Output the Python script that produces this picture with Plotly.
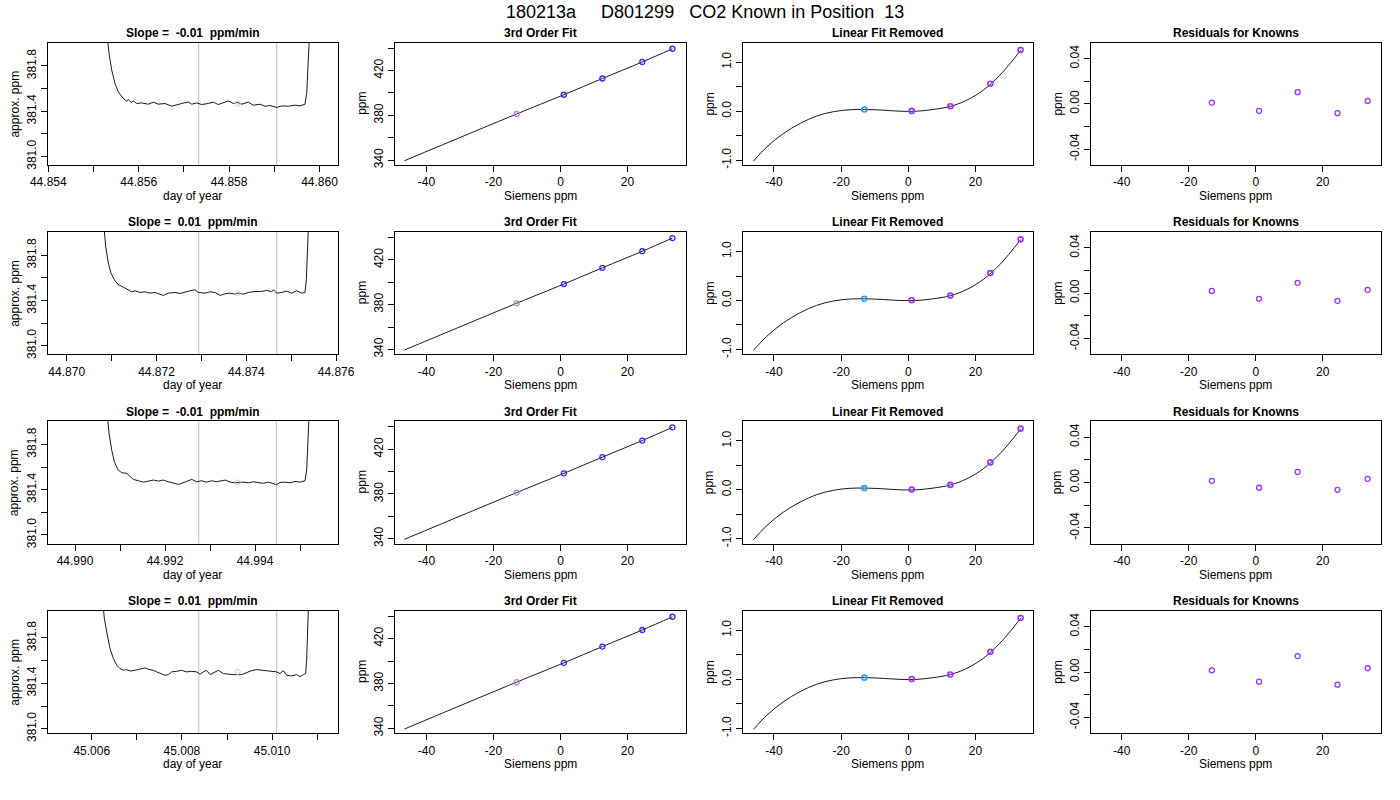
import plotly.graph_objects as go

W, H = 1400, 800
FONT = "Liberation Sans, Arial, Helvetica, sans-serif"
NB = "\u00a0"

# ============================================================
# DATA
# ============================================================
MAIN_TITLE = "180213a" + NB * 5 + "D801299" + NB * 3 + "CO2 Known in Position" + NB * 2 + "13"

SLOPE_TITLES = [
    "Slope =" + NB * 2 + "-0.01" + NB * 2 + "ppm/min",
    "Slope =" + NB * 2 + "0.01" + NB * 2 + "ppm/min",
    "Slope =" + NB * 2 + "-0.01" + NB * 2 + "ppm/min",
    "Slope =" + NB * 2 + "0.01" + NB * 2 + "ppm/min",
]

# approx. ppm vs day of year, one run per row
DAY_ROW1 = [44.855292, 44.855343, 44.855403, 44.855476, 44.855549, 44.855659, 44.855735, 44.855770,
            44.855830, 44.855881, 44.855956, 44.856066, 44.856212, 44.856323, 44.856434, 44.856582,
            44.856730, 44.856841, 44.856951, 44.857097, 44.857173, 44.857283, 44.857394, 44.857540,
            44.857651, 44.857761, 44.857872, 44.857982, 44.858093, 44.858190, 44.858279, 44.858425,
            44.858535, 44.858684, 44.858794, 44.858905, 44.859053, 44.859164, 44.859310, 44.859458,
            44.859569, 44.859679, 44.859717, 44.859752, 44.859783]
PPM_ROW1 = [382.117, 381.911, 381.763, 381.645, 381.571, 381.512, 381.488, 381.504,
            381.477, 381.491, 381.468, 381.473, 381.462, 381.480, 381.462, 381.468,
            381.444, 381.453, 381.468, 381.482, 381.462, 381.473, 381.459, 381.468,
            381.480, 381.459, 381.473, 381.491, 381.468, 381.477, 381.462, 381.480,
            381.453, 381.462, 381.444, 381.450, 381.433, 381.447, 381.444, 381.453,
            381.447, 381.462, 381.557, 381.851, 382.117]

DAY_ROW2 = [44.870816, 44.870868, 44.870927, 44.870987, 44.871061, 44.871150, 44.871261, 44.871358,
            44.871447, 44.871521, 44.871633, 44.871744, 44.871855, 44.871967, 44.872078, 44.872152,
            44.872264, 44.872412, 44.872523, 44.872635, 44.872746, 44.872858, 44.872932, 44.873080,
            44.873192, 44.873303, 44.873414, 44.873526, 44.873637, 44.873748, 44.873823, 44.873934,
            44.874045, 44.874194, 44.874342, 44.874454, 44.874565, 44.874602, 44.874676, 44.874788,
            44.874899, 44.875010, 44.875122, 44.875233, 44.875307, 44.875337, 44.875367, 44.875389]
PPM_ROW2 = [382.114, 381.878, 381.731, 381.642, 381.583, 381.539, 381.518, 381.495,
            381.477, 381.486, 381.471, 381.477, 381.465, 381.471, 381.459, 381.445,
            381.465, 381.471, 381.462, 381.477, 381.486, 381.495, 381.471, 381.465,
            381.477, 381.471, 381.445, 381.459, 381.465, 381.456, 381.465, 381.456,
            381.471, 381.480, 381.480, 381.489, 381.477, 381.495, 381.465, 381.471,
            381.483, 381.465, 381.486, 381.465, 381.471, 381.583, 381.849, 382.114]

DAY_ROW3 = [44.990704, 44.990756, 44.990815, 44.990874, 44.990948, 44.991037, 44.991148, 44.991222,
            44.991296, 44.991407, 44.991519, 44.991630, 44.991741, 44.991852, 44.991963, 44.992074,
            44.992185, 44.992296, 44.992370, 44.992481, 44.992593, 44.992704, 44.992815, 44.992926,
            44.993037, 44.993148, 44.993259, 44.993333, 44.993444, 44.993556, 44.993741, 44.993852,
            44.993963, 44.994074, 44.994185, 44.994296, 44.994407, 44.994481, 44.994556, 44.994667,
            44.994778, 44.994889, 44.995000, 44.995111, 44.995148, 44.995185, 44.995207]
PPM_ROW3 = [382.105, 381.898, 381.750, 381.647, 381.579, 381.550, 381.544, 381.515,
            381.491, 381.479, 381.467, 381.476, 381.485, 381.476, 381.485, 381.470,
            381.461, 381.447, 381.456, 381.476, 381.491, 381.470, 381.479, 381.467,
            381.479, 381.470, 381.479, 381.485, 381.467, 381.461, 381.467, 381.461,
            381.470, 381.461, 381.456, 381.467, 381.450, 381.444, 381.464, 381.467,
            381.461, 381.473, 381.467, 381.479, 381.574, 381.839, 382.105]

DAY_ROW4 = [45.006236, 45.006280, 45.006332, 45.006406, 45.006480, 45.006554, 45.006627, 45.006701,
            45.006775, 45.006849, 45.006960, 45.007071, 45.007182, 45.007256, 45.007367, 45.007441,
            45.007551, 45.007625, 45.007699, 45.007773, 45.007884, 45.007995, 45.008106, 45.008217,
            45.008327, 45.008401, 45.008475, 45.008549, 45.008623, 45.008697, 45.008808, 45.008919,
            45.009030, 45.009140, 45.009325, 45.009436, 45.009547, 45.009658, 45.009769, 45.009880,
            45.009990, 45.010101, 45.010175, 45.010249, 45.010323, 45.010434, 45.010545, 45.010619,
            45.010692, 45.010744, 45.010767, 45.010789, 45.010811]
PPM_ROW4 = [382.150, 381.973, 381.854, 381.707, 381.618, 381.560, 381.530, 381.515,
            381.521, 381.509, 381.515, 381.524, 381.536, 381.524, 381.515, 381.501,
            381.486, 381.471, 381.477, 381.501, 381.506, 381.515, 381.501, 381.506,
            381.501, 381.480, 381.501, 381.515, 381.477, 381.495, 381.515, 381.486,
            381.480, 381.477, 381.477, 381.495, 381.512, 381.521, 381.515, 381.515,
            381.506, 381.501, 381.486, 381.512, 381.471, 381.465, 381.477, 381.459,
            381.477, 381.486, 381.618, 381.884, 382.150]

# averaging window (gray lines) and mean point of each run
WINDOW_ROW1 = [44.857327, 44.859053]
WINDOW_ROW2 = [44.872940, 44.874677]
WINDOW_ROW3 = [44.992749, 44.994473]
WINDOW_ROW4 = [45.008373, 45.010102]
MEAN_DAY = [44.858190, 44.873808, 44.993615, 45.009237]
MEAN_PPM = [381.468, 381.465, 381.464, 381.501]

DAY_TICKS_ROW1 = [44.854, 44.855, 44.856, 44.857, 44.858, 44.859, 44.860]
DAY_LABELS_ROW1 = ["44.854", "", "44.856", "", "44.858", "", "44.860"]
DAY_TICKS_ROW2 = [44.870, 44.871, 44.872, 44.873, 44.874, 44.875, 44.876]
DAY_LABELS_ROW2 = ["44.870", "", "44.872", "", "44.874", "", "44.876"]
DAY_TICKS_ROW3 = [44.990, 44.991, 44.992, 44.993, 44.994, 44.995]
DAY_LABELS_ROW3 = ["44.990", "", "44.992", "", "44.994", ""]
DAY_TICKS_ROW4 = [45.006, 45.007, 45.008, 45.009, 45.010, 45.011]
DAY_LABELS_ROW4 = ["45.006", "", "45.008", "", "45.010", ""]

PPM_TICKS = [381.0, 381.2, 381.4, 381.6, 381.8]
PPM_LABELS = ["381.0", "", "381.4", "", "381.8"]

# knowns
SIEMENS = [-13.1, 1.0, 12.5, 24.4, 33.4]
KNOWN_PPM = [381.2, 398.4, 412.9, 427.7, 439.5]
FIT_X = [-46.6, -13.1, 1.0, 12.5, 24.4, 33.4]
FIT_PPM = [339.4, 381.2, 398.4, 412.9, 427.7, 439.5]

CURVE_X = [-46.1, -42.1, -37.2, -32.2, -27.3, -22.3, -17.4, -13.0, -7.4, -2.5, 2.5, 7.4,
           12.6, 17.4, 22.3, 27.3, 33.5]
CURVE_Y = [-1.02, -0.73, -0.457, -0.25, -0.10, -0.01, 0.03, 0.035, 0.02, 0.0, 0.0, 0.035,
           0.10, 0.225, 0.43, 0.74, 1.25]
NONLIN_Y = [0.035, 0.006, 0.10, 0.56, 1.25]

RESID_ROW1 = [0.0011, -0.0062, 0.0103, -0.0082, 0.0026]
RESID_ROW2 = [0.0020, -0.0050, 0.0091, -0.0068, 0.0029]
RESID_ROW3 = [0.0014, -0.0047, 0.0093, -0.0065, 0.0032]
RESID_ROW4 = [0.0015, -0.0085, 0.0140, -0.0112, 0.0033]

FIT_TICKS = [340, 360, 380, 400, 420, 440]
FIT_LABELS = ["340", "", "380", "", "420", ""]
NONLIN_TICKS = [-1.0, -0.5, 0.0, 0.5, 1.0]
NONLIN_LABELS = ["-1.0", "", "0.0", "", "1.0"]
RESID_TICKS = [-0.04, -0.02, 0.0, 0.02, 0.04]
RESID_LABELS = ["-0.04", "", "0.00", "", "0.04"]
SIEMENS_TICKS = [-40, -20, 0, 20]
SIEMENS_LABELS = ["-40", "-20", "0", "20"]

days = [DAY_ROW1, DAY_ROW2, DAY_ROW3, DAY_ROW4]
ppms = [PPM_ROW1, PPM_ROW2, PPM_ROW3, PPM_ROW4]
windows = [WINDOW_ROW1, WINDOW_ROW2, WINDOW_ROW3, WINDOW_ROW4]
day_ticks = [DAY_TICKS_ROW1, DAY_TICKS_ROW2, DAY_TICKS_ROW3, DAY_TICKS_ROW4]
day_labels = [DAY_LABELS_ROW1, DAY_LABELS_ROW2, DAY_LABELS_ROW3, DAY_LABELS_ROW4]
resids = [RESID_ROW1, RESID_ROW2, RESID_ROW3, RESID_ROW4]

# ============================================================
# LAYOUT
# ============================================================
COL_PX = [(47.7, 338.0), (395.0, 685.5), (742.7, 1033.0), (1090.7, 1380.7)]
ROW_PX = [(42.7, 165.0), (232.0, 354.3), (421.3, 543.6), (610.7, 733.3)]
DAY_RANGES = [[44.853987, 44.860409], [44.869577, 44.876042],
              [44.989393, 44.995844], [45.005024, 45.011461]]
PPM_RANGES = [[380.925, 382.005], [380.925, 382.005], [380.924, 382.004], [380.96, 382.04]]


def fx(px):
    return px / W


def fy(py):
    return 1 - py / H


base_axis = dict(
    showline=True, linecolor="black", linewidth=1, mirror=True,
    ticks="outside", ticklen=6, tickwidth=1, tickcolor="black",
    showgrid=False, zeroline=False, tickmode="array", automargin=False,
    tickfont=dict(family=FONT, size=12, color="black"),
)

fig = go.Figure()
layout = {}
annotations = []
shapes = []

PURPLE = "#9b30ff"

for r in range(4):
    for c in range(4):
        k = r * 4 + c + 1
        xa = "x" if k == 1 else f"x{k}"
        ya = "y" if k == 1 else f"y{k}"
        xname = "xaxis" if k == 1 else f"xaxis{k}"
        yname = "yaxis" if k == 1 else f"yaxis{k}"

        xdom = [fx(COL_PX[c][0]), fx(COL_PX[c][1])]
        ydom = [fy(ROW_PX[r][1]), fy(ROW_PX[r][0])]

        if c == 0:
            fig.add_trace(go.Scatter(x=days[r], y=ppms[r], xaxis=xa, yaxis=ya, mode="lines",
                                     line=dict(color="#1a1a1a", width=1), hoverinfo="skip"))
            fig.add_trace(go.Scatter(x=[MEAN_DAY[r]], y=[MEAN_PPM[r]], xaxis=xa, yaxis=ya,
                                     mode="markers",
                                     marker=dict(symbol="circle-open", size=5,
                                                 color="#ffb6c1", line=dict(width=1))))
            for wx in windows[r]:
                shapes.append(dict(type="line", xref=xa, yref=f"{ya} domain", x0=wx, x1=wx,
                                   y0=0, y1=1, line=dict(color="#bebebe", width=1), layer="below"))
            xax = dict(base_axis, range=DAY_RANGES[r], tickvals=day_ticks[r], ticktext=day_labels[r])
            yax = dict(base_axis, range=PPM_RANGES[r], tickvals=PPM_TICKS, ticktext=PPM_LABELS)
            title, xlab, ylab = SLOPE_TITLES[r], "day of year", "approx. ppm"
        elif c == 1:
            fig.add_trace(go.Scatter(x=FIT_X, y=FIT_PPM, xaxis=xa, yaxis=ya, mode="lines",
                                     line=dict(color="#1a1a1a", width=1, shape="spline"),
                                     hoverinfo="skip"))
            fig.add_trace(go.Scatter(x=SIEMENS, y=KNOWN_PPM, xaxis=xa, yaxis=ya, mode="markers",
                                     marker=dict(symbol="circle-open", size=5,
                                                 color=["#b784d6"] + ["#2b2bff"] * 4,
                                                 line=dict(width=1.3))))
            xax = dict(base_axis, range=[-49.4, 37.3], tickvals=SIEMENS_TICKS, ticktext=SIEMENS_LABELS)
            yax = dict(base_axis, range=[335.6, 444.9], tickvals=FIT_TICKS, ticktext=FIT_LABELS)
            title, xlab, ylab = "3rd Order Fit", "Siemens ppm", "ppm"
        elif c == 2:
            fig.add_trace(go.Scatter(x=CURVE_X, y=CURVE_Y, xaxis=xa, yaxis=ya, mode="lines",
                                     line=dict(color="#1a1a1a", width=1, shape="spline"),
                                     hoverinfo="skip"))
            fig.add_trace(go.Scatter(x=SIEMENS, y=NONLIN_Y, xaxis=xa, yaxis=ya, mode="markers",
                                     marker=dict(symbol="circle-open", size=5,
                                                 color=["#2a9dff"] + [PURPLE] * 4,
                                                 line=dict(width=1.6))))
            xax = dict(base_axis, range=[-49.3, 37.1], tickvals=SIEMENS_TICKS, ticktext=SIEMENS_LABELS)
            yax = dict(base_axis, range=[-1.10, 1.40], tickvals=NONLIN_TICKS, ticktext=NONLIN_LABELS)
            title, xlab, ylab = "Linear Fit Removed", "Siemens ppm", "ppm"
        else:
            fig.add_trace(go.Scatter(x=SIEMENS, y=resids[r], xaxis=xa, yaxis=ya, mode="markers",
                                     marker=dict(symbol="circle-open", size=5, color=PURPLE,
                                                 line=dict(width=1.3))))
            xax = dict(base_axis, range=[-49.25, 37.3], tickvals=SIEMENS_TICKS, ticktext=SIEMENS_LABELS)
            yax = dict(base_axis, range=[-0.054, 0.054], tickvals=RESID_TICKS, ticktext=RESID_LABELS)
            title, xlab, ylab = "Residuals for Knowns", "Siemens ppm", "ppm"

        layout[xname] = dict(xax, domain=xdom, anchor=ya)
        layout[yname] = dict(yax, domain=ydom, anchor=xa, tickangle=-90)

        cx = (COL_PX[c][0] + COL_PX[c][1]) / 2
        annotations.append(dict(text=f"<b>{title}</b>", x=fx(cx), y=fy(ROW_PX[r][0] - 9.5),
                                xref="paper", yref="paper", showarrow=False,
                                xanchor="center", yanchor="middle",
                                font=dict(family=FONT, size=12, color="black")))
        annotations.append(dict(text=xlab, x=fx(cx), y=fy(ROW_PX[r][1] + 31),
                                xref="paper", yref="paper", showarrow=False,
                                xanchor="center", yanchor="middle",
                                font=dict(family=FONT, size=12, color="black")))
        annotations.append(dict(text=ylab, x=fx(COL_PX[c][0] - 33),
                                y=fy((ROW_PX[r][0] + ROW_PX[r][1]) / 2),
                                xref="paper", yref="paper", showarrow=False, textangle=-90,
                                xanchor="center", yanchor="middle",
                                font=dict(family=FONT, size=12, color="black")))

annotations.append(dict(text=MAIN_TITLE, x=fx(705), y=fy(12), xref="paper", yref="paper",
                        showarrow=False, xanchor="center", yanchor="middle",
                        font=dict(family=FONT, size=18, color="black")))

fig.update_layout(
    width=W, height=H,
    margin=dict(l=0, r=0, t=0, b=0, pad=0, autoexpand=False),
    paper_bgcolor="white", plot_bgcolor="white",
    showlegend=False,
    annotations=annotations,
    shapes=shapes,
    **layout,
)

# drop the browser's default 8px body margin so the figure sits at the page corner
fig.write_html("out.html", config={"displayModeBar": False},
               post_script="document.body.style.margin = '0px';")
